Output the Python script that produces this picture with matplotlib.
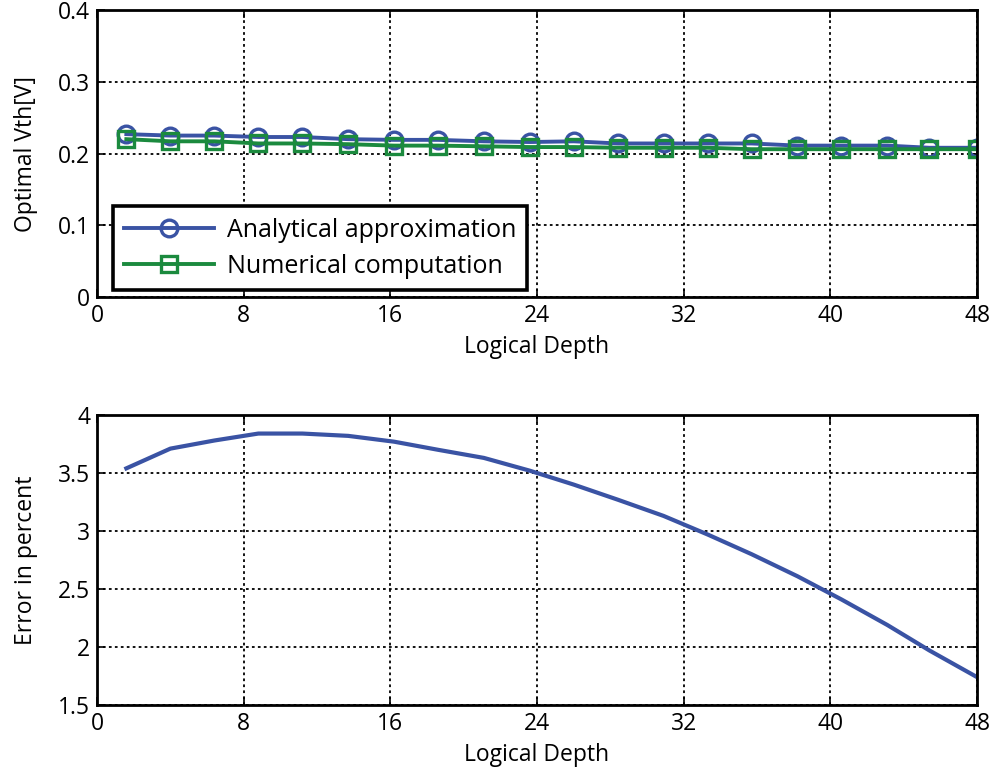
import matplotlib
matplotlib.use('Agg')
import matplotlib.pyplot as plt

plt.rcParams['font.family'] = ['Open Sans', 'DejaVu Sans']

# logical depth samples
depth = [1.6, 4.0, 6.4, 8.8, 11.2, 13.7, 16.2, 18.6, 21.1, 23.6,
         26.0, 28.4, 30.9, 33.3, 35.7, 38.2, 40.6, 43.1, 45.4, 48.0]

vth_analytical = [0.227, 0.225, 0.225, 0.223, 0.223, 0.220, 0.219, 0.219, 0.217, 0.216,
                  0.217, 0.214, 0.214, 0.214, 0.214, 0.211, 0.211, 0.211, 0.208, 0.208]
vth_numerical = [0.220, 0.217, 0.217, 0.214, 0.214, 0.213, 0.211, 0.211, 0.210, 0.209,
                 0.209, 0.208, 0.208, 0.208, 0.206, 0.206, 0.206, 0.206, 0.206, 0.206]

error_pct = [3.54, 3.71, 3.78, 3.84, 3.84, 3.82, 3.77, 3.70, 3.63, 3.52,
             3.40, 3.27, 3.13, 2.97, 2.80, 2.61, 2.41, 2.19, 1.97, 1.74]

xticks = [0, 8, 16, 24, 32, 40, 48]

blue = '#3a53a4'
green = '#1b8a3e'
fs = 16.5

fig = plt.figure(figsize=(9.99, 7.83), dpi=100)
ax1 = fig.add_axes([0.0971, 0.6207, 0.881, 0.3665])
ax2 = fig.add_axes([0.0971, 0.0996, 0.881, 0.3704])


def style(ax):
    ax.set_xlim(0, 48)
    ax.set_xticks(xticks)
    ax.grid(True, color='black', linestyle=(0, (1.5, 1.8)), linewidth=1.3)
    ax.tick_params(direction='in', top=True, right=True, length=6, width=1.2,
                   labelsize=fs, pad=5)
    for s in ax.spines.values():
        s.set_linewidth(2)
    ax.set_xlabel('Logical Depth', fontsize=fs, labelpad=5)


ax1.plot(depth, vth_analytical, color=blue, lw=2.8, marker='o', ms=12,
         mfc='none', mew=2.4, label='Analytical approximation')
ax1.plot(depth, vth_numerical, color=green, lw=2.8, marker='s', ms=11,
         mfc='none', mew=2.4, label='Numerical computation')
ax1.set_ylim(0, 0.4)
ax1.set_yticks([0, 0.1, 0.2, 0.3, 0.4])
ax1.set_yticklabels(['0', '0.1', '0.2', '0.3', '0.4'])
ax1.set_ylabel('Optimal Vth[V]', fontsize=fs, labelpad=14)
style(ax1)
leg = ax1.legend(loc='lower left', bbox_to_anchor=(0.018, 0.024), borderaxespad=0,
                 fontsize=18, fancybox=False, framealpha=1, edgecolor='black',
                 handlelength=3.6, handletextpad=0.5, borderpad=0.45,
                 labelspacing=0.45)
leg.get_frame().set_linewidth(2.6)

ax2.plot(depth, error_pct, color=blue, lw=3)
ax2.set_ylim(1.5, 4)
ax2.set_yticks([1.5, 2, 2.5, 3, 3.5, 4])
ax2.set_yticklabels(['1.5', '2', '2.5', '3', '3.5', '4'])
ax2.set_ylabel('Error in percent', fontsize=fs, labelpad=14)
style(ax2)

fig.savefig('out.png', dpi=100)
